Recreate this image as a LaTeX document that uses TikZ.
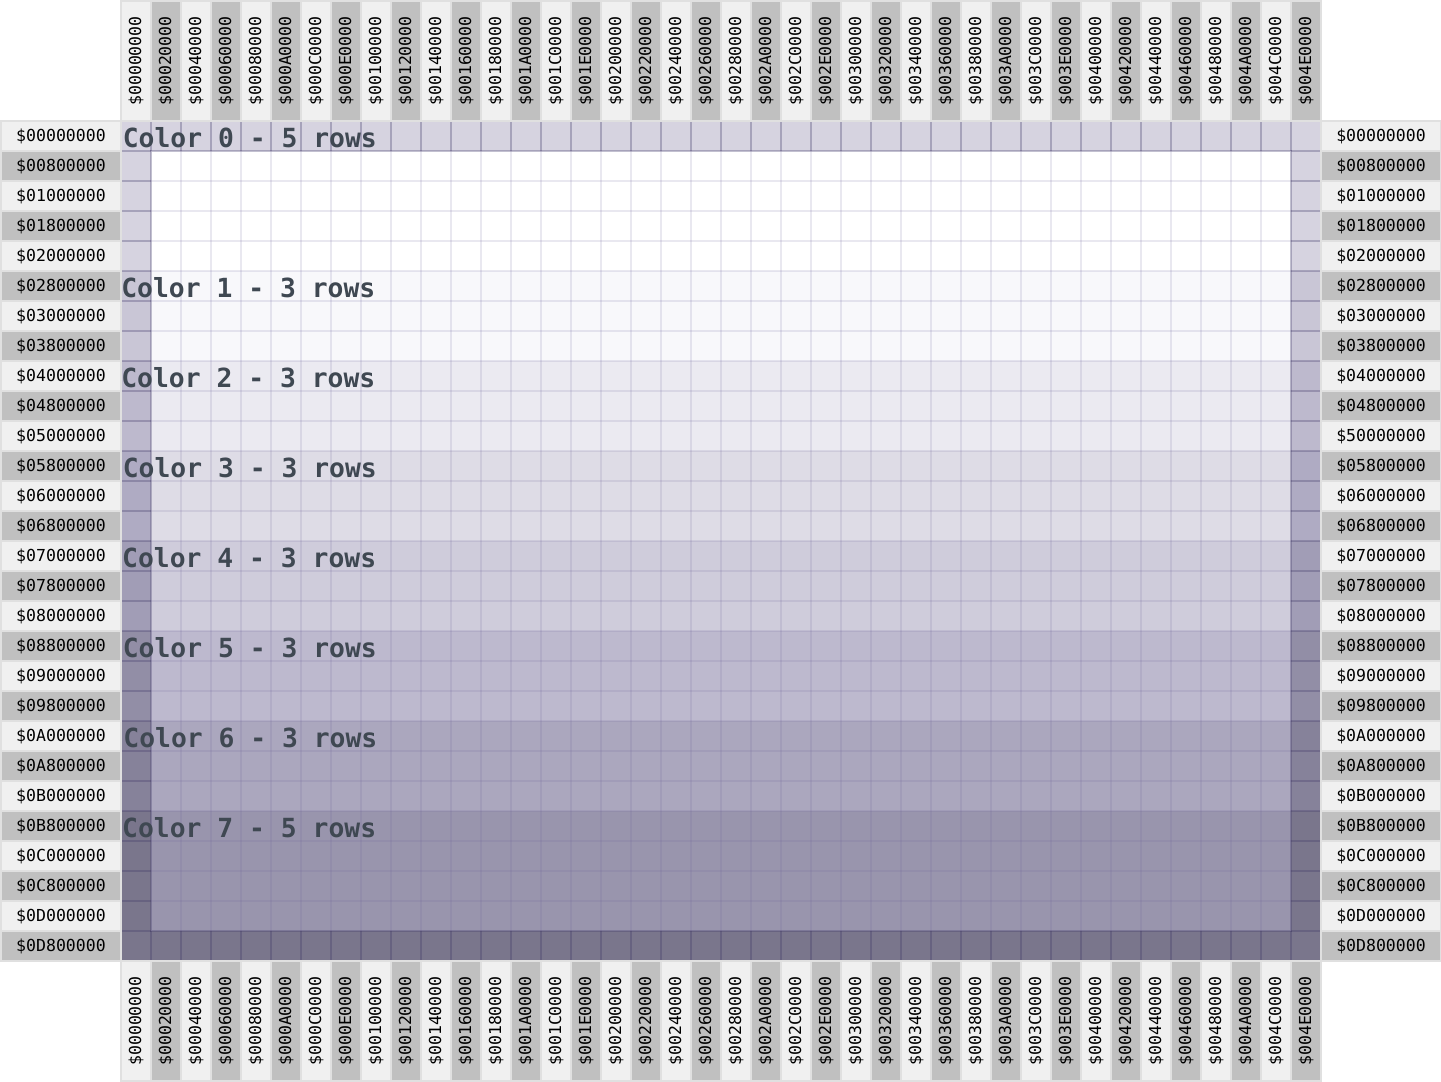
\documentclass[tikz,border=0pt]{standalone}
\usepackage{fontspec}
\setmonofont{DejaVu Sans Mono}
\usepackage{xcolor}
\usepackage{tikz}

\definecolor{band0}{HTML}{FFFFFF}
\definecolor{band1}{HTML}{F8F8FB}
\definecolor{band2}{HTML}{EBEAF1}
\definecolor{band3}{HTML}{DEDCE6}
\definecolor{band4}{HTML}{CFCCDB}
\definecolor{band5}{HTML}{BDB9CE}
\definecolor{band6}{HTML}{ABA7BE}
\definecolor{band7}{HTML}{9995AD}
\definecolor{edge0}{HTML}{D6D3E0}
\definecolor{edge1}{HTML}{C9C6D6}
\definecolor{edge2}{HTML}{BDB9CD}
\definecolor{edge3}{HTML}{AFABC3}
\definecolor{edge4}{HTML}{A19DB6}
\definecolor{edge5}{HTML}{928EA6}
\definecolor{edge6}{HTML}{86829A}
\definecolor{edge7}{HTML}{7A768C}
\definecolor{hdrlight}{HTML}{F0F0F0}
\definecolor{hdrdark}{HTML}{C0C0C0}
\definecolor{hdrline}{HTML}{E0E0E0}
\definecolor{gridink}{HTML}{6A5E98}
\definecolor{edgeink}{HTML}{2A2450}
\definecolor{labelink}{HTML}{3F4852}

\tikzset{
  hdrcell/.style={draw=hdrline, line width=0.6pt, fill=#1, inner sep=0pt,
    font=\ttfamily\fontsize{9.4}{9.4}\selectfont, text=black},
  colhdr/.style={hdrcell=#1, rotate=90, minimum width=2.4cm, minimum height=0.6cm},
  rowhdr/.style={hdrcell=#1, minimum width=2.4cm, minimum height=0.6cm},
  gridline/.style={draw=gridink, draw opacity=0.14, line width=0.8pt},
  edgeline/.style={draw=edgeink, draw opacity=0.2, line width=0.8pt},
  bandlabel/.style={anchor=base west, inner sep=0pt, text=labelink,
    font=\ttfamily\bfseries\fontsize{15}{15}\selectfont},
}

\begin{document}
\begin{tikzpicture}[x=0.6cm, y=-0.6cm]
\useasboundingbox (-4.0333,-4.0333) rectangle (44,32);

% Bands
\foreach \ra/\rb/\n in {0/5/0,5/8/1,8/11/2,11/14/3,14/17/4,17/20/5,20/23/6,23/28/7} {
  \fill[band\n] (0,\ra) rectangle (40,\rb);
  \fill[edge\n] (0,\ra) rectangle (1,\rb);
  \fill[edge\n] (39,\ra) rectangle (40,\rb);
}
\fill[edge0] (0,0) rectangle (40,1);
\fill[edge7] (0,27) rectangle (40,28);

% Lines
\foreach \c in {0,...,40} \draw[gridline] (\c,0) -- (\c,28);
\foreach \r in {0,...,28} \draw[gridline] (0,\r) -- (40,\r);
\foreach \c in {0,...,40} \draw[edgeline] (\c,0) -- (\c,1) (\c,27) -- (\c,28);
\foreach \r in {0,...,28} \draw[edgeline] (0,\r) -- (1,\r) (39,\r) -- (40,\r);
\draw[edgeline] (1,1) rectangle (39,27);
\draw[edgeline] (0,0) rectangle (40,28);

% Column headers
\foreach \h [count=\i from 0] in {00,02,04,06,08,0A,0C,0E,10,12,14,16,18,1A,1C,1E,20,22,24,26,
                                  28,2A,2C,2E,30,32,34,36,38,3A,3C,3E,40,42,44,46,48,4A,4C,4E} {
  \ifodd\i \def\hdrfill{hdrdark}\else\def\hdrfill{hdrlight}\fi
  \node[colhdr=\hdrfill] (top\i) at (\i+0.5,-2) {\$00\h0000};
  \node[colhdr=\hdrfill] (bot\i) at (\i+0.5,30) {\$00\h0000};
}

% Row headers
\foreach \h [count=\r from 0] in {00,08,10,18,20,28,30,38,40,48,50,58,60,68,
                                  70,78,80,88,90,98,A0,A8,B0,B8,C0,C8,D0,D8} {
  \ifodd\r \def\hdrfill{hdrdark}\else\def\hdrfill{hdrlight}\fi
  \ifnum\r=10 \def\rtext{\$50000000}\else\def\rtext{\$0\h00000}\fi
  \node[rowhdr=\hdrfill] (left\r) at (-2,\r+0.5) {\$0\h00000};
  \node[rowhdr=\hdrfill] (right\r) at (42,\r+0.5) {\rtext};
}

% Labels
\node[bandlabel] (color0) at (0.05,0.88) {Color 0 - 5 rows};
\node[bandlabel] (color1) at (0,5.88) {Color 1 - 3 rows};
\node[bandlabel] (color2) at (0,8.88) {Color 2 - 3 rows};
\node[bandlabel] (color3) at (0.05,11.88) {Color 3 - 3 rows};
\node[bandlabel] (color4) at (0.03,14.88) {Color 4 - 3 rows};
\node[bandlabel] (color5) at (0.05,17.88) {Color 5 - 3 rows};
\node[bandlabel] (color6) at (0.07,20.88) {Color 6 - 3 rows};
\node[bandlabel] (color7) at (0.03,23.88) {Color 7 - 5 rows};
\end{tikzpicture}
\end{document}
